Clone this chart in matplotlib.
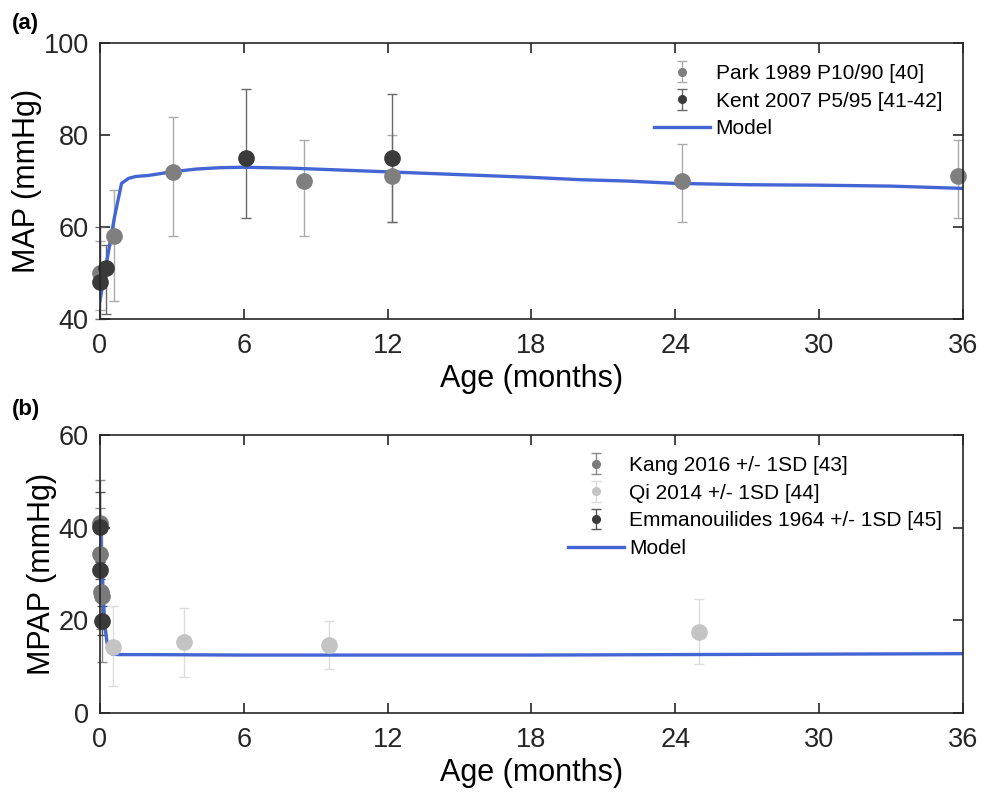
import matplotlib.pyplot as plt
import numpy as np

plt.rcParams['font.family'] = ['Liberation Sans', 'DejaVu Sans']

# (a) MAP data
park_age = [0.0, 0.58, 3.05, 8.5, 12.2, 24.3, 35.8]
park_map = [50, 58, 72, 70, 71, 70, 71]
park_lo = [42, 44, 58, 58, 61, 61, 62]
park_hi = [57, 68, 84, 79, 80, 78, 79]

kent_age = [0.0, 0.25, 6.1, 12.2]
kent_map = [48, 51, 75, 75]
kent_lo = [40, 41, 62, 61]
kent_hi = [60, 56, 90, 89]

model_a_age = [0, 0.1, 0.3, 0.6, 0.9, 1.2, 1.5, 2, 3, 4, 5, 6, 8, 10, 12, 14,
               16, 18, 20, 22, 24, 27, 30, 33, 36]
model_a_map = [44, 47, 53, 62, 69.5, 70.6, 71, 71.2, 72, 72.6, 72.9, 73, 72.8,
               72.4, 72, 71.6, 71.2, 70.8, 70.3, 70, 69.5, 69.2, 69.1, 68.9, 68.4]

# (b) MPAP data
kang_age = [0.0, 0.0, 0.05, 0.08]
kang_mpap = [41, 34.3, 26.1, 25.2]
kang_sd = [9.3, 9.9, 8.0, 14.2]

qi_age = [0.54, 3.5, 9.55, 25.0]
qi_mpap = [14.3, 15.3, 14.7, 17.5]
qi_lo = [5.8, 7.8, 9.5, 10.6]
qi_hi = [23.0, 22.7, 19.9, 24.5]

emm_age = [0.0, 0.0, 0.08]
emm_mpap = [40.1, 30.9, 19.9]
emm_sd = [7.6, 2.0, 3.1]

model_b_age = [0, 0.05, 0.1, 0.15, 0.2, 0.3, 0.4, 0.5, 0.8, 1, 2, 6, 12, 18,
               24, 30, 36]
model_b_mpap = [40, 36, 30, 24, 19, 15, 13.2, 12.7, 12.6, 12.6, 12.6, 12.5,
                12.5, 12.5, 12.6, 12.7, 12.8]

blue = '#4466d4'
ink = '#262626'
fig = plt.figure(figsize=(9.81, 7.96), dpi=100)
ax1 = fig.add_axes([0.1019, 0.5992, 0.8797, 0.3467])
ax2 = fig.add_axes([0.1019, 0.1043, 0.8797, 0.3492])


def err(v, lo, hi):
    v = np.array(v)
    return [v - np.array(lo), np.array(hi) - v]


eb = dict(fmt='o', ms=11, capsize=3.7, elinewidth=1.0, capthick=1.0, clip_on=False)

p1 = ax1.errorbar(park_age, park_map, yerr=err(park_map, park_lo, park_hi),
                  color='#7f7f7f', ecolor='#ababab', label='Park 1989 P10/90 [40]', **eb)
p2 = ax1.errorbar(kent_age, kent_map, yerr=err(kent_map, kent_lo, kent_hi),
                  color='#3a3a3a', ecolor='#6a6a6a', label='Kent 2007 P5/95 [41-42]', **eb)
m1, = ax1.plot(model_a_age, model_a_map, color=blue, lw=2.4, label='Model')
ax1.set_ylim(40, 100)
ax1.set_yticks([40, 60, 80, 100])
ax1.set_ylabel('MAP (mmHg)', fontsize=22, labelpad=1)

q1 = ax2.errorbar(kang_age, kang_mpap, yerr=kang_sd, color='#7a7a7a',
                  ecolor='#8c8c8c', label='Kang 2016 +/- 1SD [43]', **eb)
q2 = ax2.errorbar(qi_age, qi_mpap, yerr=err(qi_mpap, qi_lo, qi_hi),
                  color='#c4c4c4', ecolor='#dcdcdc', label='Qi 2014 +/- 1SD [44]', **eb)
q3 = ax2.errorbar(emm_age, emm_mpap, yerr=emm_sd, color='#3a3a3a',
                  ecolor='#555555', label='Emmanouilides 1964 +/- 1SD [45]', **eb)
m2, = ax2.plot(model_b_age, model_b_mpap, color=blue, lw=2.4, label='Model')
ax2.set_ylim(0, 60)
ax2.set_yticks([0, 20, 40, 60])
ax2.set_ylabel('MPAP (mmHg)', fontsize=22, labelpad=1)

for ax, handles in ((ax1, [p1, p2, m1]), (ax2, [q1, q2, q3, m2])):
    ax.set_xlim(0, 36)
    ax.set_xticks([0, 6, 12, 18, 24, 30, 36])
    ax.set_xlabel('Age (months)', fontsize=22, labelpad=4)
    ax.tick_params(direction='in', top=True, right=True, labelsize=19.5,
                   length=7, width=1.2, colors=ink)
    ax.tick_params(axis='x', pad=10)
    ax.tick_params(axis='y', pad=8)
    for s in ax.spines.values():
        s.set_linewidth(1.2)
        s.set_color(ink)
    ax.legend(handles=handles, loc='upper right', frameon=False, fontsize=15,
              markerscale=0.5, handlelength=2.7, handletextpad=0.25,
              labelspacing=0.42, borderaxespad=0.6)

fig.text(0.012, 0.971, '(a)', fontsize=16, fontweight='bold', va='center')
fig.text(0.012, 0.485, '(b)', fontsize=16, fontweight='bold', va='center')

fig.savefig('out.png', dpi=100)
